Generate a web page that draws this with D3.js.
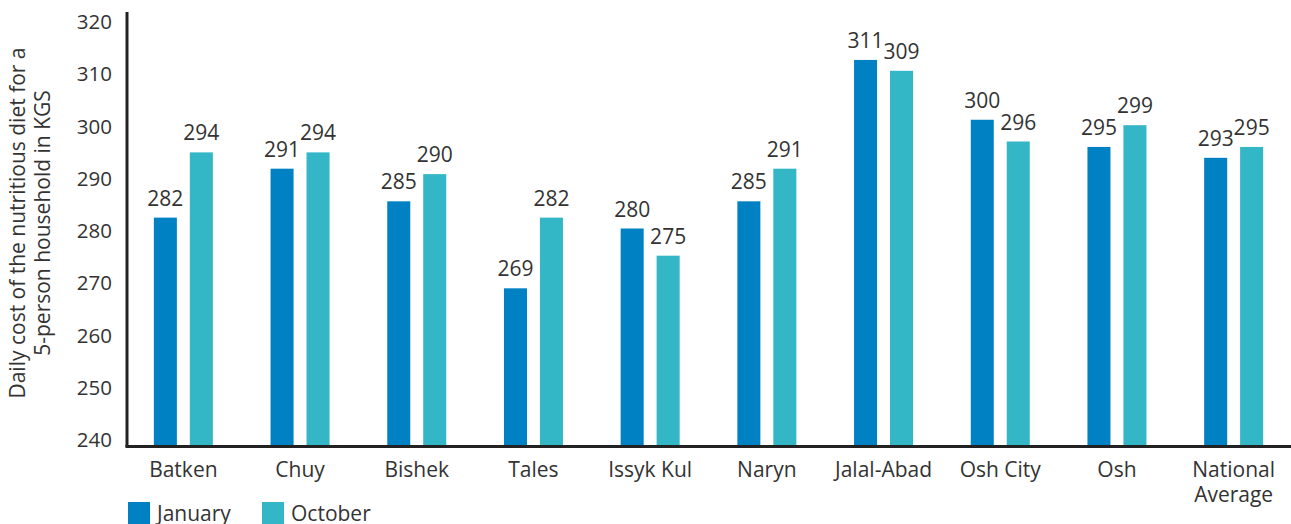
<!DOCTYPE html>
<html>
<head>
<meta charset="utf-8">
<script src="https://cdn.jsdelivr.net/npm/d3@7"></script>
<style>
  body { margin: 0; background: #fff; }
  text { font-family: "Open Sans", sans-serif; fill: #333; }
</style>
</head>
<body>
<div id="chart"></div>
<script>
// regions and the two survey rounds
var regions = ["Batken", "Chuy", "Bishek", "Tales", "Issyk Kul", "Naryn", "Jalal-Abad", "Osh City", "Osh", "National Average"]
var january = [282, 291, 285, 269, 280, 285, 311, 300, 295, 293]
var october = [294, 294, 290, 282, 275, 291, 309, 296, 299, 295]
var series = ["January", "October"]
var yTicks = [240, 250, 260, 270, 280, 290, 300, 310, 320]

var colors = { January: "#0081c4", October: "#33b6c5" }

var width = 1291, height = 524

var svg = d3.select("#chart").append("svg")
  .attr("width", width)
  .attr("height", height)

// y scale for the bars
var y = d3.scaleLinear().domain([240, 320]).range([446, 11])
// tick labels in the original sit a little inside the axis ends
var yLabel = d3.scaleLinear().domain([240, 320]).range([440, 21.5])

var x0 = d3.scaleBand().domain(regions).range([125, 1292])
var x1 = d3.scaleBand().domain(series).range([0, 59]).paddingInner(0.36)

var rows = regions.map(function (r, i) {
  return { region: r, values: [{ key: "January", v: january[i] }, { key: "October", v: october[i] }] }
})

// tick labels
svg.append("g").selectAll("text")
  .data(yTicks)
  .enter().append("text")
  .attr("x", 112)
  .attr("y", function (d) { return yLabel(d) })
  .attr("dy", "0.36em")
  .attr("text-anchor", "end")
  .style("font-size", "20.5px")
  .text(function (d) { return d })

// y title
var title = svg.append("text")
  .attr("transform", "translate(0,223) rotate(-90)")
  .attr("text-anchor", "middle")
  .style("font-size", "21px")
title.append("tspan").attr("x", 0).attr("y", 25).text("Daily cost of the nutritious diet for a")
title.append("tspan").attr("x", 0).attr("y", 50).text("5-person household in KGS")

// bars
var groups = svg.append("g").selectAll("g")
  .data(rows)
  .enter().append("g")
  .attr("transform", function (d) {
    return "translate(" + (x0(d.region) + x0.bandwidth() / 2 - 29.5) + ",0)"
  })

groups.selectAll("rect")
  .data(function (d) { return d.values })
  .enter().append("rect")
  .attr("x", function (d) { return x1(d.key) })
  .attr("width", x1.bandwidth())
  .attr("y", function (d) { return y(d.v) })
  .attr("height", function (d) { return y(240) - y(d.v) })
  .attr("fill", function (d) { return colors[d.key] })

groups.selectAll("text")
  .data(function (d) { return d.values })
  .enter().append("text")
  .attr("x", function (d) { return x1(d.key) + x1.bandwidth() / 2 })
  .attr("y", function (d) { return y(d.v) - 12 })
  .attr("text-anchor", "middle")
  .style("font-size", "21px")
  .text(function (d) { return d.v })

// axes lines
svg.append("line")
  .attr("x1", 127).attr("x2", 127)
  .attr("y1", 12).attr("y2", 447)
  .attr("stroke", "#222").attr("stroke-width", 3)
svg.append("line")
  .attr("x1", 125.5).attr("x2", 1291)
  .attr("y1", 446.5).attr("y2", 446.5)
  .attr("stroke", "#222").attr("stroke-width", 3)

// category labels
var cat = svg.append("g").selectAll("text")
  .data(regions)
  .enter().append("text")
  .attr("x", function (d) { return x0(d) + x0.bandwidth() / 2 })
  .attr("y", 477)
  .attr("text-anchor", "middle")
  .style("font-size", "21px")

cat.each(function (d) {
  var words = d === "National Average" ? ["National", "Average"] : [d]
  var t = d3.select(this)
  words.forEach(function (w, i) {
    t.append("tspan")
      .attr("x", t.attr("x"))
      .attr("dy", i === 0 ? 0 : 25)
      .text(w)
  })
})

// legend
var legend = svg.append("g").selectAll("g")
  .data(series)
  .enter().append("g")
  .attr("transform", function (d, i) { return "translate(" + (128 + i * 134) + ",502)" })

legend.append("rect")
  .attr("width", 22).attr("height", 22)
  .attr("fill", function (d) { return colors[d] })

legend.append("text")
  .attr("x", 29)
  .attr("y", 19)
  .style("font-size", "21px")
  .text(function (d) { return d })
</script>
</body>
</html>
